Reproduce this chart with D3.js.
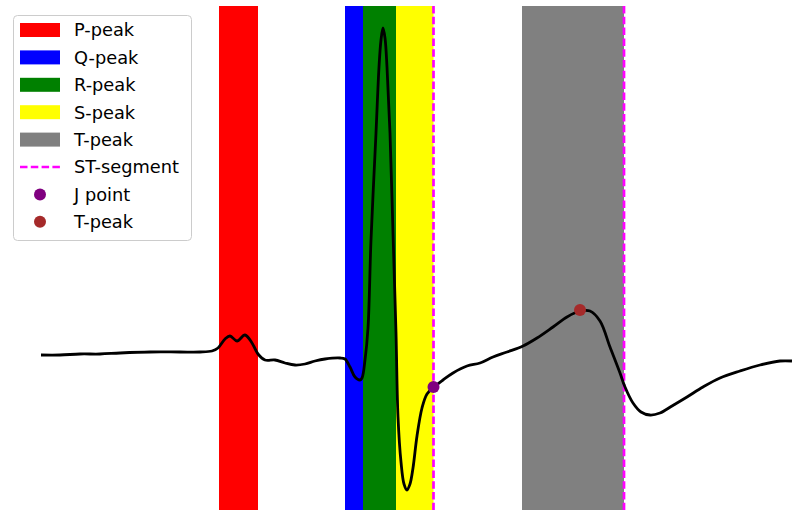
<!DOCTYPE html>
<html>
<head>
<meta charset="utf-8">
<script src="https://cdn.jsdelivr.net/npm/d3@7"></script>
<style>
  body { margin: 0; background: #fff; }
  svg { display: block; font-family: "DejaVu Sans", sans-serif; }
</style>
</head>
<body>
<svg id="chart" width="792" height="510"></svg>
<script>
// ECG beat, sample index vs amplitude (mV)
const sampleIdx = [0, 19, 39, 59, 79, 109, 139, 159, 171, 177, 184, 189, 196, 204, 211, 217, 224, 234, 244, 254,
  264, 274, 284, 299, 304, 309, 314, 319, 321, 324, 327, 330, 335, 338, 340, 342, 344, 346, 349, 352,
  355, 357, 360, 363, 366, 369, 372, 376, 381, 386, 393, 402, 412, 426, 439, 452, 466, 482, 496, 512,
  526, 539, 549, 559, 569, 579, 584, 592, 600, 609, 619, 631, 646, 662, 679, 699, 719, 739, 751];
const ecgValues = [-0.005, -0.005, 0, 0, 0.005, 0.01, 0.01, 0.01, 0.015, 0.03, 0.075, 0.09, 0.065, 0.095, 0.055, 0, -0.03, -0.03, -0.045, -0.055,
  -0.05, -0.035, -0.025, -0.02, -0.025, -0.065, -0.115, -0.13, -0.12, -0.03, 0.13, 0.57, 1.105, 1.435, 1.57, 1.63, 1.58, 1.435, 1.105, 0.605,
  0.105, -0.315, -0.54, -0.65, -0.68, -0.65, -0.57, -0.41, -0.27, -0.2, -0.165, -0.13, -0.095, -0.06, -0.045, -0.015, 0.01, 0.04, 0.08, 0.135,
  0.185, 0.215, 0.215, 0.165, 0.035, -0.095, -0.165, -0.245, -0.29, -0.305, -0.295, -0.26, -0.215, -0.165, -0.12, -0.085, -0.055, -0.035, -0.035];

// wave regions (sample index)
const waveNames = ['P-peak', 'Q-peak', 'R-peak', 'S-peak', 'T-peak'];
const waveStart = [178, 304, 322, 355, 481];
const waveEnd = [217, 322, 355, 392.5, 583];
const waveColors = ['red', 'blue', 'green', 'yellow', 'gray'];

// ST segment boundaries
const stLines = [392.5, 583];

// markers
const jPoint = [392.5, -0.165];
const tPeak = [539, 0.22];

const width = 792, height = 510;
const svg = d3.select('#chart');

const x = d3.scaleLinear().domain([0, 751]).range([41, 792]);
const y = d3.scaleLinear().domain([-0.78, 1.74]).range([510, 6]);

// Shaded bands
svg.append('g').selectAll('rect')
  .data(waveNames)
  .enter()
  .append('rect')
  .attr('x', (d, i) => x(waveStart[i]))
  .attr('width', (d, i) => x(waveEnd[i]) - x(waveStart[i]))
  .attr('y', y.range()[1])
  .attr('height', y.range()[0] - y.range()[1])
  .attr('fill', (d, i) => waveColors[i]);

// ST segment lines
svg.append('g').selectAll('line')
  .data(stLines)
  .enter()
  .append('line')
  .attr('x1', d => x(d)).attr('x2', d => x(d))
  .attr('y1', y.range()[1]).attr('y2', y.range()[0])
  .attr('stroke', 'magenta')
  .attr('stroke-width', 2.7)
  .attr('stroke-dasharray', '7.5,3.3');

// ECG trace
const line = d3.line()
  .x(d => x(d[0]))
  .y(d => y(d[1]))
  .curve(d3.curveCatmullRom.alpha(0.5));

svg.append('path')
  .datum(sampleIdx.map((t, i) => [t, ecgValues[i]]))
  .attr('d', line)
  .attr('fill', 'none')
  .attr('stroke', 'black')
  .attr('stroke-width', 2.8)
  .attr('stroke-linejoin', 'round');

// markers
svg.append('circle')
  .attr('cx', x(jPoint[0])).attr('cy', y(jPoint[1]))
  .attr('r', 6).attr('fill', 'purple');
svg.append('circle')
  .attr('cx', x(tPeak[0])).attr('cy', y(tPeak[1]))
  .attr('r', 6).attr('fill', 'brown');

// Legend
const legend = svg.append('g').attr('transform', 'translate(13,15)');
legend.append('rect')
  .attr('x', 0.5).attr('y', 0.5)
  .attr('width', 178).attr('height', 225)
  .attr('rx', 4)
  .attr('fill', 'white').attr('fill-opacity', 0.8)
  .attr('stroke', '#cccccc');

const legendItems = [
  ...waveNames.map((n, i) => ({ label: n, type: 'patch', color: waveColors[i] })),
  { label: 'ST-segment', type: 'dash', color: 'magenta' },
  { label: 'J point', type: 'dot', color: 'purple' },
  { label: 'T-peak', type: 'dot', color: 'brown' }
];

const rowH = 27.4;
legendItems.forEach((item, i) => {
  const cy = 15 + i * rowH;
  const g = legend.append('g');
  if (item.type === 'patch') {
    g.append('rect').attr('x', 7).attr('y', cy - 7).attr('width', 40).attr('height', 14).attr('fill', item.color);
  } else if (item.type === 'dash') {
    g.append('line').attr('x1', 7).attr('x2', 47).attr('y1', cy).attr('y2', cy)
      .attr('stroke', item.color).attr('stroke-width', 2.7).attr('stroke-dasharray', '7.5,3.3');
  } else {
    g.append('circle').attr('cx', 27).attr('cy', cy).attr('r', 6).attr('fill', item.color);
  }
  g.append('text')
    .attr('x', 61).attr('y', cy)
    .attr('dy', '0.36em')
    .attr('font-size', 17.8)
    .attr('fill', '#000')
    .text(item.label);
});
</script>
</body>
</html>
